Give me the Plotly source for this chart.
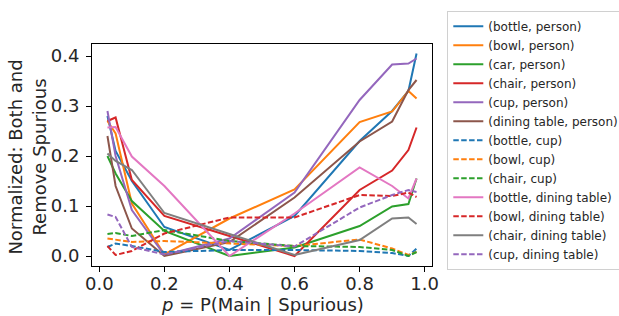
import plotly.graph_objects as go

x_vals = [0.025, 0.05, 0.1, 0.2, 0.4, 0.6, 0.8, 0.9, 0.95, 0.975]

bottle_person = [0.28, 0.21, 0.15, 0.058, 0.012, 0.08, 0.23, 0.29, 0.33, 0.405]
bowl_person = [0.27, 0.245, 0.105, 0.003, 0.075, 0.133, 0.268, 0.289, 0.33, 0.315]
car_person = [0.2, 0.165, 0.11, 0.05, 0.0, 0.017, 0.06, 0.099, 0.104, 0.155]
chair_person = [0.27, 0.277, 0.152, 0.08, 0.04, 0.0, 0.132, 0.171, 0.212, 0.257]
cup_person = [0.29, 0.2, 0.092, 0.002, 0.035, 0.127, 0.312, 0.383, 0.385, 0.395]
dining_person = [0.24, 0.14, 0.055, 0.0, 0.028, 0.117, 0.229, 0.269, 0.332, 0.352]
bottle_cup = [0.018, 0.025, 0.02, 0.008, 0.012, 0.012, 0.01, 0.006, 0.0, 0.015]
bowl_cup = [0.035, 0.033, 0.028, 0.03, 0.025, 0.02, 0.033, 0.015, 0.002, 0.008]
chair_cup = [0.044, 0.046, 0.04, 0.052, 0.03, 0.02, 0.018, 0.012, 0.0, 0.008]
bottle_dining = [0.257, 0.258, 0.199, 0.14, 0.0, 0.085, 0.177, 0.14, 0.115, 0.155]
bowl_dining = [0.02, 0.002, 0.01, 0.045, 0.077, 0.077, 0.122, 0.12, 0.127, 0.118]
chair_dining = [0.205, 0.19, 0.172, 0.086, 0.044, 0.002, 0.032, 0.075, 0.077, 0.064]
cup_dining = [0.083, 0.078, 0.018, 0.003, 0.03, 0.019, 0.097, 0.122, 0.132, 0.128]

series_names = [
    "(bottle, person)", "(bowl, person)", "(car, person)", "(chair, person)",
    "(cup, person)", "(dining table, person)", "(bottle, cup)", "(bowl, cup)",
    "(chair, cup)", "(bottle, dining table)", "(bowl, dining table)",
    "(chair, dining table)", "(cup, dining table)",
]
series_values = [
    bottle_person, bowl_person, car_person, chair_person, cup_person,
    dining_person, bottle_cup, bowl_cup, chair_cup, bottle_dining,
    bowl_dining, chair_dining, cup_dining,
]
series_colors = [
    "#1f77b4", "#ff7f0e", "#2ca02c", "#d62728", "#9467bd", "#8c564b",
    "#1f77b4", "#ff7f0e", "#2ca02c", "#e377c2", "#d62728", "#7f7f7f", "#9467bd",
]
series_dash = [
    "solid", "solid", "solid", "solid", "solid", "solid",
    "5.5px,2.4px", "5.5px,2.4px", "5.5px,2.4px", "solid", "5.5px,2.4px",
    "solid", "5.5px,2.4px",
]

x_title = "<i>p</i> = P(Main | Spurious)"
y_title = "Normalized: Both and<br>Remove Spurious"

fig = go.Figure()
for name, vals, col, dash in zip(series_names, series_values, series_colors, series_dash):
    fig.add_trace(go.Scatter(
        x=x_vals, y=vals, mode="lines", name=name,
        line=dict(color=col, width=2, dash=dash),
    ))

font_family = "DejaVu Sans"
fig.update_layout(
    width=619, height=316,
    margin=dict(l=92, r=187, t=44, b=50, autoexpand=False),
    paper_bgcolor="white", plot_bgcolor="white",
    font=dict(family=font_family, size=18, color="#262626"),
    showlegend=True,
    legend=dict(
        x=1.045, y=1.15, xanchor="left", yanchor="top",
        bordercolor="#d0d0d0", borderwidth=1,
        font=dict(family=font_family, size=12, color="#262626"),
        tracegroupgap=0, itemwidth=30, maxheight=310,
    ),
    annotations=[
        dict(text=x_title, xref="paper", yref="paper", x=0.5, y=-0.175,
             xanchor="center", yanchor="middle", showarrow=False,
             font=dict(family=font_family, size=18, color="#262626")),
        dict(text=y_title, xref="paper", yref="paper", x=-0.19, y=0.49,
             xanchor="center", yanchor="middle", showarrow=False, textangle=-90,
             font=dict(family=font_family, size=18, color="#262626")),
    ],
)
fig.update_xaxes(
    range=[-0.0225, 1.0225], tickvals=[0.0, 0.2, 0.4, 0.6, 0.8, 1.0],
    tickformat=".1f", ticks="outside", ticklen=5, tickcolor="black",
    ticklabelstandoff=-4, automargin=False,
    showline=True, linecolor="black", linewidth=1, mirror=True,
    showgrid=False, zeroline=False,
)
fig.update_yaxes(
    range=[-0.02, 0.424], tickvals=[0.0, 0.1, 0.2, 0.3, 0.4],
    tickformat=".1f", ticks="outside", ticklen=5, tickcolor="black",
    ticklabelstandoff=3, automargin=False,
    showline=True, linecolor="black", linewidth=1, mirror=True,
    showgrid=False, zeroline=False,
)

fig.write_html(
    "out.html",
    config={"displayModeBar": False},
    post_script="document.body.style.margin='0';document.body.style.padding='0';",
)
